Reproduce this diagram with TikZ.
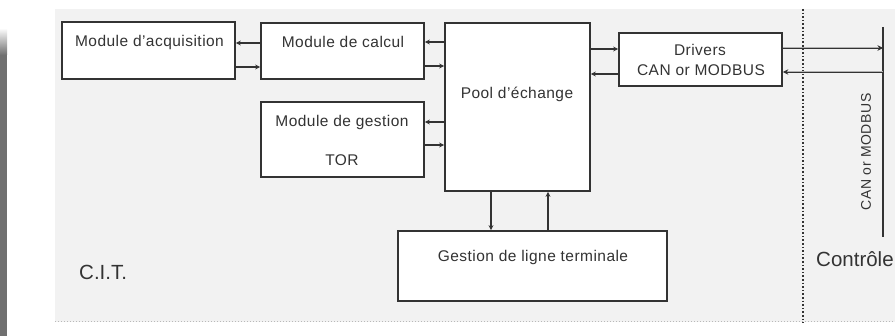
\documentclass[tikz,border=0pt]{standalone}
\usepackage{fontspec}
\setmainfont{Liberation Sans}
\usetikzlibrary{arrows.meta}
\definecolor{bgc}{HTML}{F2F2F2}
\definecolor{ink}{HTML}{333333}
\definecolor{barc}{HTML}{707070}
\tikzset{
  boxnode/.style={draw=ink, line width=1.7pt, fill=white, rectangle, inner sep=0pt},
  txt/.style={text=ink, font=\fontsize{15.5}{17}\selectfont\addfontfeature{LetterSpace=3}, inner sep=0pt},
  cantxt/.style={text=ink, font=\fontsize{14}{16}\selectfont\addfontfeature{LetterSpace=4}, inner sep=0pt},
  bigtxt/.style={text=ink, font=\fontsize{20.5}{23}\selectfont, inner sep=0pt},
  arr/.style={draw=ink, line width=1.2pt, -{Stealth[length=5pt,width=5pt]}},
  busarr/.style={draw=ink, line width=0.8pt, double=gray!60, double distance=1pt, -{Stealth[length=5.5pt,width=5.5pt]}},
}
\begin{document}
\begin{tikzpicture}[x=1pt,y=-1pt]
\useasboundingbox (0,0) rectangle (895,336);
% background
\fill[white] (0,0) rectangle (895,336);
\fill[bgc] (55,9) rectangle (895,322);
\draw[gray!55, dotted, line width=1pt] (55,322) -- (895,322);
% left bar
\shade[top color=white, bottom color=barc] (0,28) rectangle (7,55);
\fill[barc] (0,55) rectangle (7,336);
% boxes
\node[boxnode, minimum width=173pt, minimum height=57pt] (acq) at (148.5,50.5) {};
\node[boxnode, minimum width=163pt, minimum height=56pt] (calc) at (342.5,51) {};
\node[boxnode, minimum width=163pt, minimum height=75pt] (tor) at (342.5,139.5) {};
\node[boxnode, minimum width=145pt, minimum height=168pt] (pool) at (517.5,107) {};
\node[boxnode, minimum width=163pt, minimum height=53pt] (drv) at (700.5,59.5) {};
\node[boxnode, minimum width=269pt, minimum height=70pt] (gl) at (532.5,266) {};
% texts
\node[txt] (tacq) at (149.5,42) {Module d'acquisition};
\node[txt] (tcalc) at (343,42) {Module de calcul};
\node[txt] (ttor1) at (342,122) {Module de gestion};
\node[txt] (ttor2) at (342,160) {TOR};
\node[txt] (tpool) at (517,94) {Pool d'échange};
\node[txt] (tdrv1) at (700,50) {Drivers};
\node[txt] (tdrv2) at (701,70) {CAN or MODBUS};
\node[txt] (tgl) at (533,257) {Gestion de ligne terminale};
\node[bigtxt, anchor=west] (tcit) at (79,272) {C.I.T.};
\node[bigtxt, anchor=west] (tctl) at (816,259) {Contrôle};
\node[cantxt, rotate=90] (tcan) at (866,152) {CAN or MODBUS};
% separator and bus
\coordinate (sept) at (803,9);
\coordinate (sepb) at (803,323);
\draw[ink, dotted, line width=1.6pt] (sept) -- (sepb);
\coordinate (bust) at (883,27);
\coordinate (busb) at (883,237);
\draw[ink, line width=1.7pt] (bust) -- (busb);
% connectors
\draw[arr] (calc.west |- 0,43) -- (acq.east |- 0,43);
\draw[arr] (acq.east |- 0,67) -- (calc.west |- 0,67);
\draw[arr] (pool.west |- 0,42) -- (calc.east |- 0,42);
\draw[arr] (calc.east |- 0,66) -- (pool.west |- 0,66);
\draw[arr] (pool.west |- 0,122) -- (tor.east |- 0,122);
\draw[arr] (tor.east |- 0,145) -- (pool.west |- 0,145);
\draw[arr] (pool.east |- 0,49) -- (drv.west |- 0,49);
\draw[arr] (drv.west |- 0,74) -- (pool.east |- 0,74);
\draw[busarr] (drv.east |- 0,48) -- (bust |- 0,48);
\draw[busarr] (bust |- 0,72) -- (drv.east |- 0,72);
\draw[arr] (pool.south -| 491,0) -- (gl.north -| 491,0);
\draw[arr] (gl.north -| 548,0) -- (pool.south -| 548,0);
\end{tikzpicture}
\end{document}
